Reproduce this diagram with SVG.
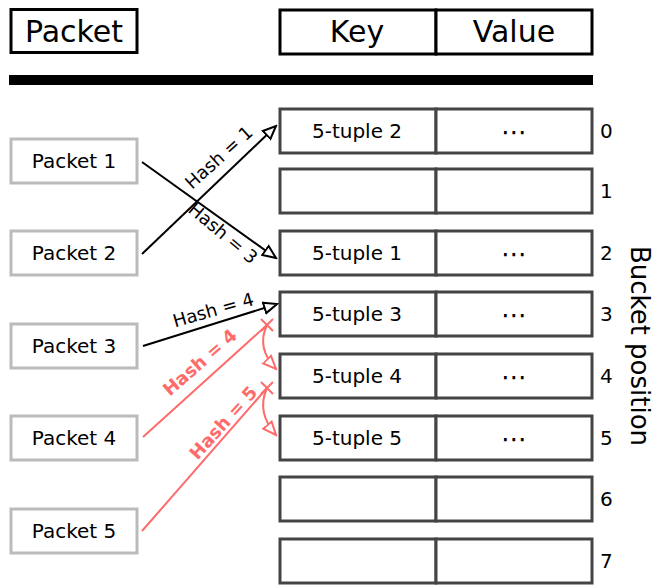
<svg xmlns="http://www.w3.org/2000/svg" width="654" height="586" viewBox="0 0 654 586">
  <style>
    text { font-family: "DejaVu Sans", "Liberation Sans", sans-serif; fill: #000; }
    .hdr { fill: #fff; stroke: #000; stroke-width: 3; }
    .cell { fill: #fff; stroke: #444; stroke-width: 3; }
    .pkt { fill: #fff; stroke: #bbb; stroke-width: 3; }
    .big { font-size: 30px; text-anchor: middle; }
    .lbl { font-size: 20px; text-anchor: middle; }
    .dots { font-size: 26px; text-anchor: middle; }
    .num { font-size: 20px; }
    .hash { font-size: 18px; text-anchor: middle; }
    .rhash { font-size: 18px; text-anchor: middle; font-weight: bold; fill: #ff6b6b; }
    .link { stroke: #000; stroke-width: 2; fill: none; }
    .rlink { stroke: #ff6b6b; stroke-width: 2; fill: none; }
  </style>
  <defs>
    <marker id="arrow" markerUnits="userSpaceOnUse" markerWidth="16" markerHeight="14" refX="14" refY="7" orient="auto" viewBox="0 0 16 14">
      <path d="M1,1.5 L14,7 L1,12.5 Z" fill="#fff" stroke="#000" stroke-width="2"/>
    </marker>
    <marker id="rarrow" markerUnits="userSpaceOnUse" markerWidth="16" markerHeight="14" refX="14" refY="7" orient="auto" viewBox="0 0 16 14">
      <path d="M1,1.5 L14,7 L1,12.5 Z" fill="#fff" stroke="#ff6b6b" stroke-width="2"/>
    </marker>
  </defs>

  <!-- header -->
  <g id="header">
    <rect class="hdr" x="11" y="9.5" width="126" height="43"/>
    <text class="big" x="74" y="42">Packet</text>
    <rect class="hdr" x="280" y="10" width="156" height="44"/>
    <rect class="hdr" x="436" y="10" width="156" height="44"/>
    <text class="big" x="357" y="42">Key</text>
    <text class="big" x="514" y="42">Value</text>
    <rect x="9" y="75" width="584" height="10" fill="#000"/>
  </g>

  <!-- hash table buckets -->
  <g id="bucket0">
    <rect class="cell" x="280" y="109" width="156" height="44"/>
    <rect class="cell" x="436" y="109" width="156" height="44"/>
    <text class="lbl" x="357" y="138">5-tuple 2</text>
    <text class="dots" x="514" y="141">⋯</text>
    <text class="num" x="600" y="138">0</text>
  </g>
  <g id="bucket1">
    <rect class="cell" x="280" y="169" width="156" height="44"/>
    <rect class="cell" x="436" y="169" width="156" height="44"/>
    <text class="num" x="600" y="198">1</text>
  </g>
  <g id="bucket2">
    <rect class="cell" x="280" y="231" width="156" height="44"/>
    <rect class="cell" x="436" y="231" width="156" height="44"/>
    <text class="lbl" x="357" y="260">5-tuple 1</text>
    <text class="dots" x="514" y="263">⋯</text>
    <text class="num" x="600" y="260">2</text>
  </g>
  <g id="bucket3">
    <rect class="cell" x="280" y="292" width="156" height="44"/>
    <rect class="cell" x="436" y="292" width="156" height="44"/>
    <text class="lbl" x="357" y="321">5-tuple 3</text>
    <text class="dots" x="514" y="324">⋯</text>
    <text class="num" x="600" y="321">3</text>
  </g>
  <g id="bucket4">
    <rect class="cell" x="280" y="354" width="156" height="44"/>
    <rect class="cell" x="436" y="354" width="156" height="44"/>
    <text class="lbl" x="357" y="383">5-tuple 4</text>
    <text class="dots" x="514" y="386">⋯</text>
    <text class="num" x="600" y="383">4</text>
  </g>
  <g id="bucket5">
    <rect class="cell" x="280" y="416" width="156" height="44"/>
    <rect class="cell" x="436" y="416" width="156" height="44"/>
    <text class="lbl" x="357" y="445">5-tuple 5</text>
    <text class="dots" x="514" y="448">⋯</text>
    <text class="num" x="600" y="445">5</text>
  </g>
  <g id="bucket6">
    <rect class="cell" x="280" y="477" width="156" height="44"/>
    <rect class="cell" x="436" y="477" width="156" height="44"/>
    <text class="num" x="600" y="506">6</text>
  </g>
  <g id="bucket7">
    <rect class="cell" x="280" y="539" width="156" height="44"/>
    <rect class="cell" x="436" y="539" width="156" height="44"/>
    <text class="num" x="600" y="568">7</text>
  </g>
  <text id="bucket-axis" font-size="26" text-anchor="middle" transform="translate(631,346) rotate(90)">Bucket position</text>

  <!-- packets -->
  <g id="packet1">
    <rect class="pkt" x="11" y="139" width="126" height="44"/>
    <text class="lbl" x="74" y="168">Packet 1</text>
  </g>
  <g id="packet2">
    <rect class="pkt" x="11" y="231" width="126" height="44"/>
    <text class="lbl" x="74" y="260">Packet 2</text>
  </g>
  <g id="packet3">
    <rect class="pkt" x="11" y="324" width="126" height="44"/>
    <text class="lbl" x="74" y="353">Packet 3</text>
  </g>
  <g id="packet4">
    <rect class="pkt" x="11" y="416" width="126" height="44"/>
    <text class="lbl" x="74" y="445">Packet 4</text>
  </g>
  <g id="packet5">
    <rect class="pkt" x="11" y="509" width="126" height="44"/>
    <text class="lbl" x="74" y="538">Packet 5</text>
  </g>

  <!-- hash connectors -->
  <g id="connectors">
    <line class="link" x1="142" y1="162" x2="276" y2="258" marker-end="url(#arrow)"/>
    <line class="link" x1="142" y1="254" x2="276" y2="126" marker-end="url(#arrow)"/>
    <line class="link" x1="143" y1="346" x2="277" y2="304" marker-end="url(#arrow)"/>
    <text class="hash" transform="translate(223,162) rotate(-42)">Hash = 1</text>
    <text class="hash" transform="translate(219,238) rotate(40)">Hash = 3</text>
    <text class="hash" transform="translate(215,316) rotate(-16)">Hash = 4</text>

    <!-- collisions: probe to next bucket -->
    <line class="rlink" x1="143" y1="437" x2="267" y2="325"/>
    <line class="rlink" x1="142" y1="531" x2="267" y2="388"/>
    <path class="rlink" d="M261,319 L273,331 M273,319 L261,331"/>
    <path class="rlink" d="M261,382 L273,394 M273,382 L261,394"/>
    <path class="rlink" d="M267,325 Q256,348 276,369" marker-end="url(#rarrow)"/>
    <path class="rlink" d="M267,388 Q256,412 276,435" marker-end="url(#rarrow)"/>
    <text class="rhash" transform="translate(204,367) rotate(-41)">Hash = 4</text>
    <text class="rhash" transform="translate(228,427) rotate(-48)">Hash = 5</text>
  </g>
</svg>
